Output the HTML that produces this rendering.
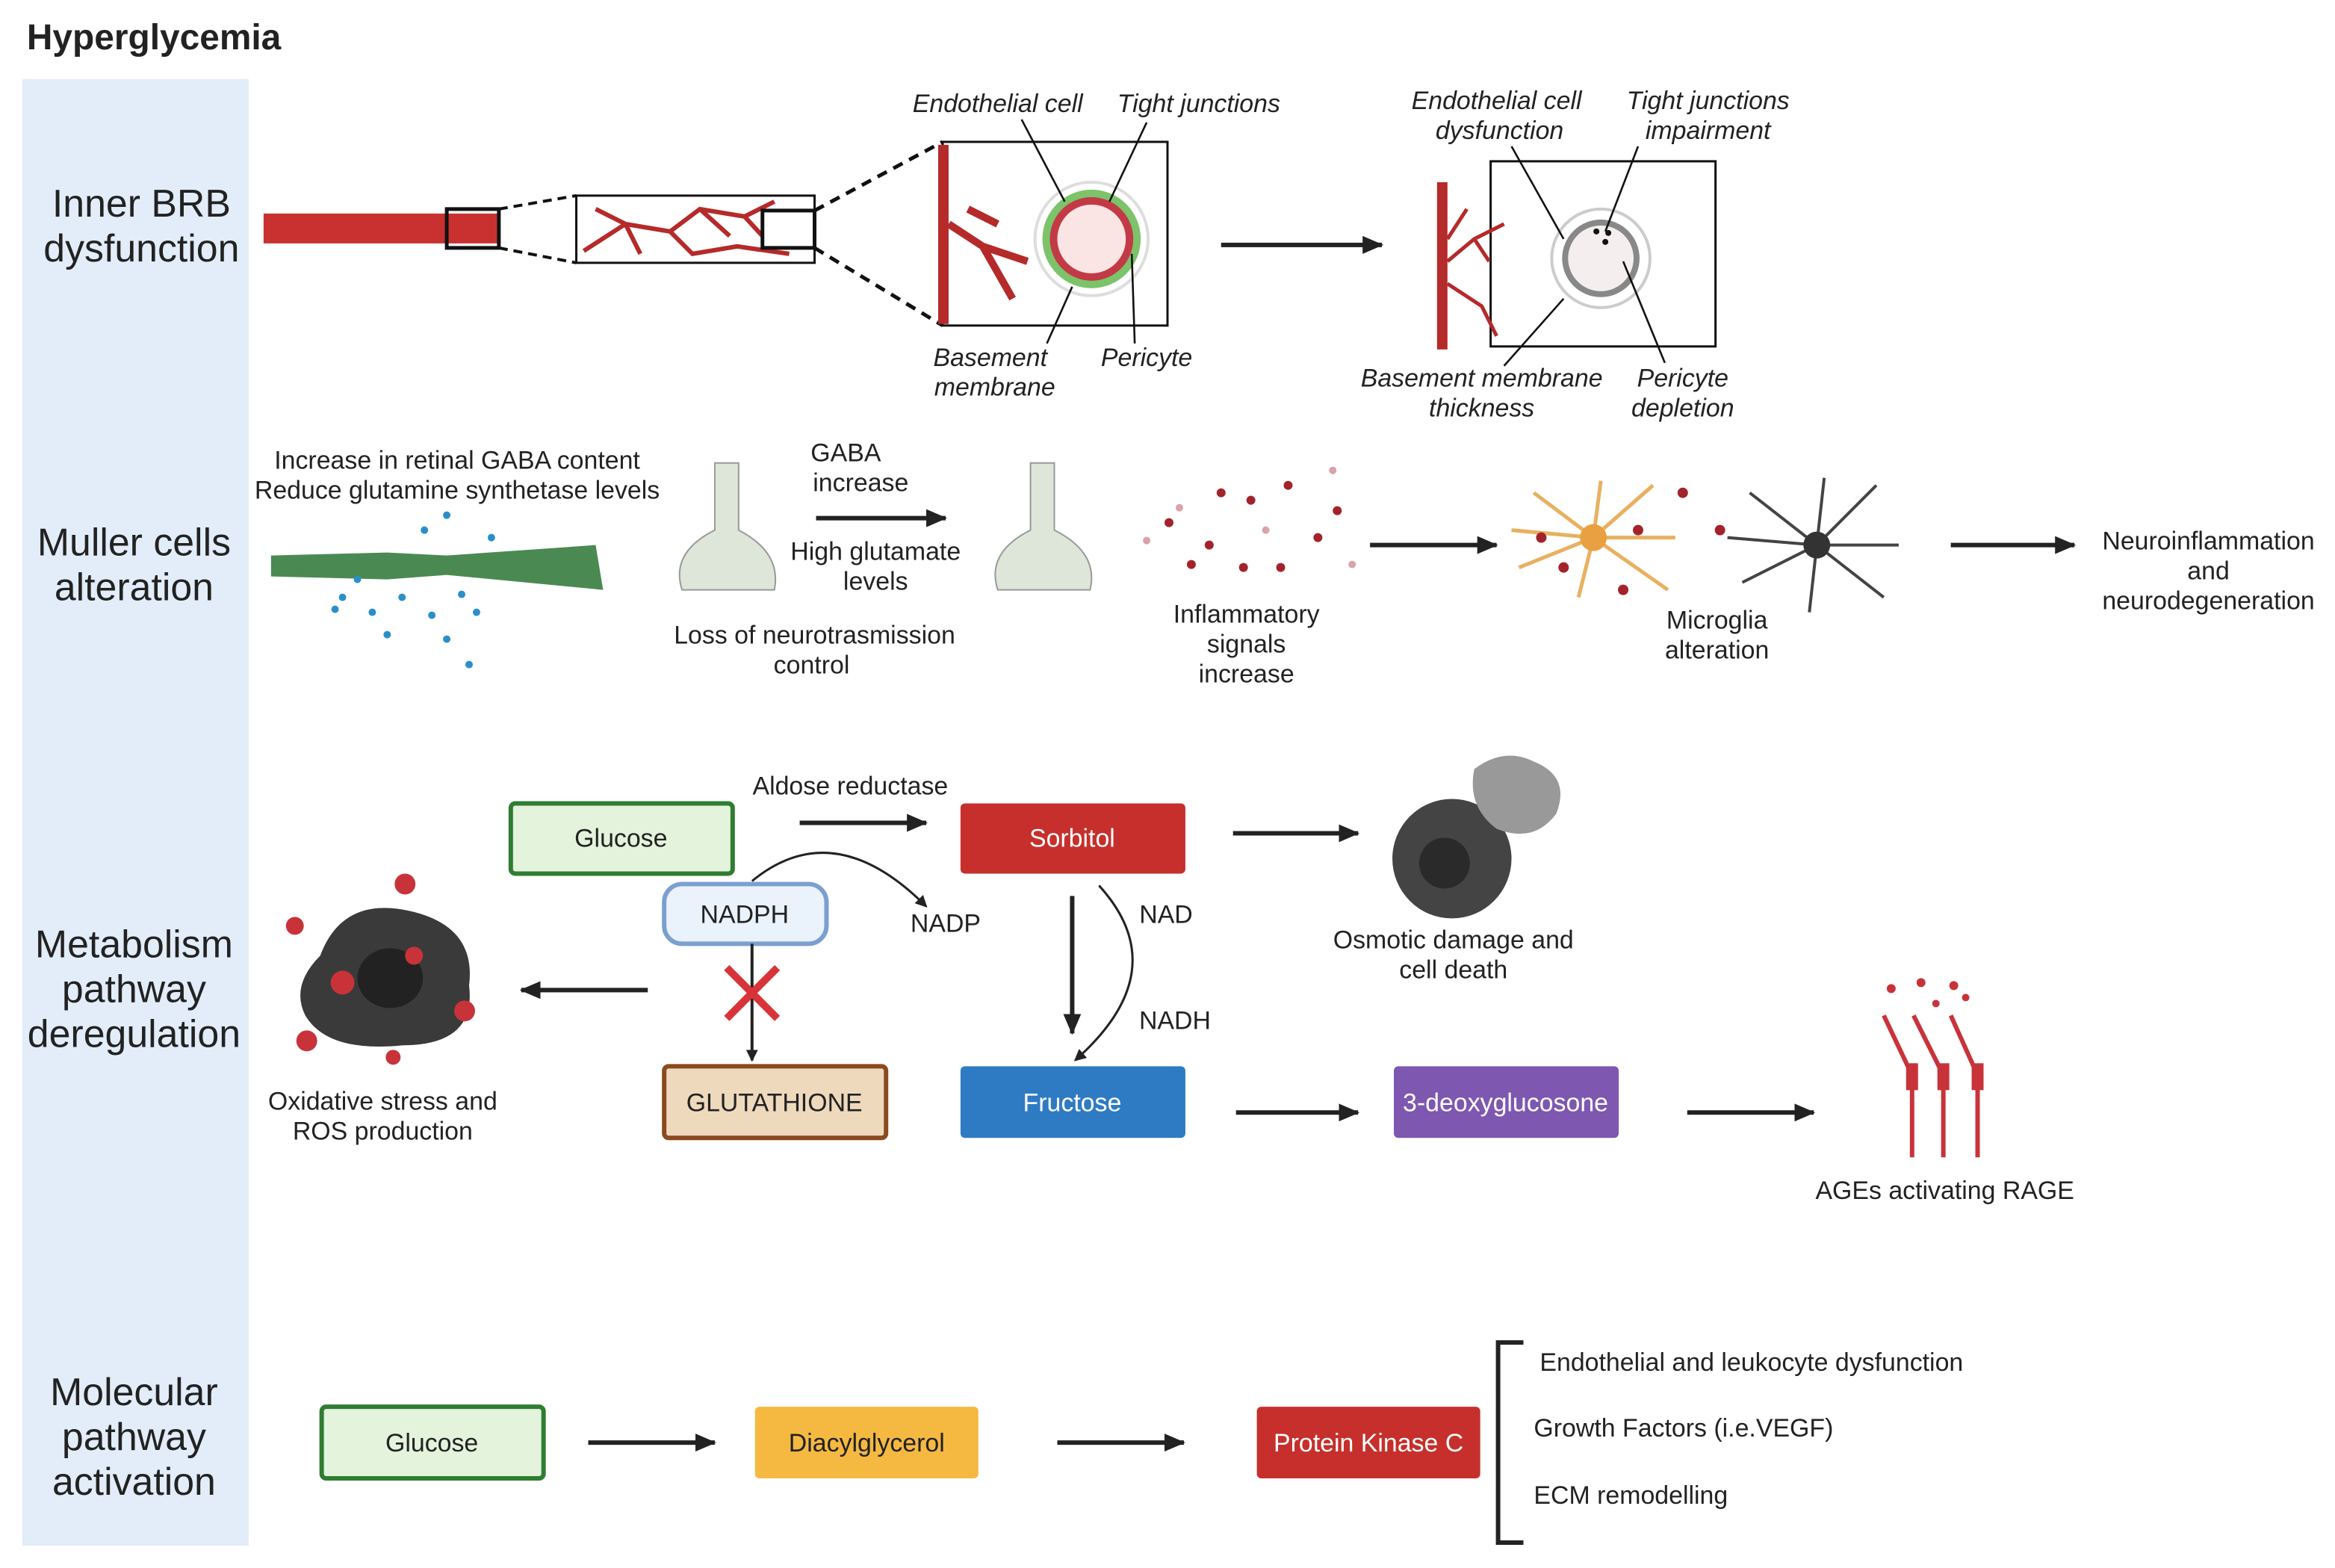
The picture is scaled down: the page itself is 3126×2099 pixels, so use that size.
<!DOCTYPE html>
<html><head><meta charset="utf-8"><style>
html,body{margin:0;padding:0;background:#fff;}
svg{display:block;}
text{font-family:"Liberation Sans",sans-serif;fill:#222;}
.i{font-style:italic;}
</style></head><body>
<svg width="3126" height="2099" viewBox="0 0 1568 1050" preserveAspectRatio="none" xmlns="http://www.w3.org/2000/svg">
<defs>
<marker id="a" markerWidth="8" markerHeight="8" refX="7" refY="4" orient="auto" markerUnits="userSpaceOnUse"><path d="M0,0 L8,4 L0,8 z" fill="#222"/></marker>
<marker id="b" markerWidth="14" markerHeight="12" refX="13" refY="6" orient="auto" markerUnits="userSpaceOnUse"><path d="M0,0 L14,6 L0,12 z" fill="#222"/></marker>
</defs>
<text x="18" y="33" font-size="24" font-weight="bold">Hyperglycemia</text>
<rect x="15" y="53" width="152" height="982" fill="#e2edf9"/>
<g font-size="26" text-anchor="middle">
<text x="95" y="145">Inner BRB</text><text x="95" y="175">dysfunction</text>
<text x="90" y="372">Muller cells</text><text x="90" y="402">alteration</text>
<text x="90" y="641">Metabolism</text><text x="90" y="671">pathway</text><text x="90" y="701">deregulation</text>
<text x="90" y="941">Molecular</text><text x="90" y="971">pathway</text><text x="90" y="1001">activation</text>
</g>
<!-- Row 1 -->
<rect x="177" y="143" width="158" height="20" fill="#c8312f"/>
<rect x="300" y="140" width="35" height="26" fill="none" stroke="#111" stroke-width="2.5"/>
<path d="M335,140 L387,131 M335,166 L387,176" stroke="#111" stroke-width="2" stroke-dasharray="6,4"/>
<rect x="387" y="131" width="160" height="45" fill="#fff" stroke="#111" stroke-width="1.5"/>
<path d="M392,168 L420,150 L450,155 L470,140 L500,145 L520,135 M420,150 L430,170 M450,155 L465,170 L495,165 L530,170 M470,140 L490,158 M500,145 L512,158 M400,140 L420,150" stroke="#b52a2a" stroke-width="3" fill="none"/>
<rect x="512" y="141" width="35" height="25" fill="none" stroke="#111" stroke-width="2.5"/>
<path d="M547,141 L633,95 M547,166 L633,218" stroke="#111" stroke-width="2.5" stroke-dasharray="7,5"/>
<rect x="633" y="95" width="151" height="123" fill="#fff" stroke="#111" stroke-width="1.5"/>
<rect x="630" y="97" width="7" height="120" fill="#b52a2a"/>
<path d="M637,150 L660,165 L680,200 M660,165 L690,175 M650,140 L670,150" stroke="#b52a2a" stroke-width="5" fill="none"/>
<circle cx="733" cy="160" r="38" fill="none" stroke="#ddd" stroke-width="2"/>
<circle cx="733" cy="160" r="33" fill="#7cc36a"/>
<circle cx="733" cy="160" r="28" fill="#c23a45"/>
<circle cx="733" cy="160" r="23" fill="#fbe4e4"/>
<g stroke="#111" stroke-width="1.3">
<line x1="686" y1="80" x2="715" y2="135"/><line x1="770" y1="82" x2="745" y2="135"/>
<line x1="703" y1="230" x2="720" y2="192"/><line x1="762" y1="230" x2="760" y2="170"/>
</g>
<g font-size="17" class="i" text-anchor="middle">
<text x="670" y="75" class="i" font-style="italic">Endothelial cell</text>
<text x="805" y="75" font-style="italic">Tight junctions</text>
<text x="665" y="245" font-style="italic">Basement</text><text x="668" y="265" font-style="italic">membrane</text>
<text x="770" y="245" font-style="italic">Pericyte</text>
<text x="1005" y="73" font-style="italic">Endothelial cell</text><text x="1007" y="93" font-style="italic">dysfunction</text>
<text x="1147" y="73" font-style="italic">Tight junctions</text><text x="1147" y="93" font-style="italic">impairment</text>
<text x="995" y="259" font-style="italic">Basement membrane</text><text x="995" y="279" font-style="italic">thickness</text>
<text x="1130" y="259" font-style="italic">Pericyte</text><text x="1130" y="279" font-style="italic">depletion</text>
</g>
<line x1="820" y1="164" x2="928" y2="164" stroke="#222" stroke-width="3" marker-end="url(#b)"/>
<rect x="1001" y="108" width="151" height="124" fill="#fff" stroke="#111" stroke-width="1.5"/>
<rect x="965" y="122" width="7" height="112" fill="#b52a2a"/>
<path d="M972,175 L990,160 L1010,150 M972,190 L995,205 L1005,225 M972,160 L985,140 M990,160 L1000,175" stroke="#b52a2a" stroke-width="2.5" fill="none"/>
<circle cx="1075" cy="173" r="33" fill="none" stroke="#ccc" stroke-width="2"/>
<circle cx="1075" cy="173" r="26" fill="#888"/>
<circle cx="1075" cy="173" r="22" fill="#f4eeee"/>
<g stroke="#111" stroke-width="1.3">
<line x1="1015" y1="98" x2="1050" y2="160"/><line x1="1100" y1="98" x2="1078" y2="155"/>
<line x1="1010" y1="245" x2="1050" y2="200"/><line x1="1118" y1="243" x2="1090" y2="175"/>
</g>
<circle cx="1072" cy="155" r="2" fill="#111"/><circle cx="1080" cy="156" r="2" fill="#111"/><circle cx="1078" cy="162" r="2" fill="#111"/>
<!-- Row 2 -->
<g font-size="17" text-anchor="middle">
<text x="307" y="314">Increase in retinal GABA content</text>
<text x="307" y="334">Reduce glutamine synthetase levels</text>
<text x="568" y="309">GABA</text><text x="578" y="329">increase</text>
<text x="588" y="375">High glutamate</text><text x="588" y="395">levels</text>
<text x="547" y="431">Loss of  neurotrasmission</text><text x="545" y="451">control</text>
<text x="837" y="417">Inflammatory</text><text x="837" y="437">signals</text><text x="837" y="457">increase</text>
<text x="1153" y="421">Microglia</text><text x="1153" y="441">alteration</text>
<text x="1483" y="368">Neuroinflammation</text><text x="1483" y="388">and</text><text x="1483" y="408">neurodegeneration</text>
</g>
<path d="M182,372 L260,370 L300,372 L400,365 L405,395 L300,385 L260,388 L182,386 z" fill="#4a8a52"/>
<g fill="#2a8fc8">
<circle cx="230" cy="400" r="2.5"/><circle cx="250" cy="410" r="2.5"/><circle cx="270" cy="400" r="2.5"/><circle cx="290" cy="412" r="2.5"/><circle cx="310" cy="398" r="2.5"/><circle cx="260" cy="425" r="2.5"/><circle cx="300" cy="428" r="2.5"/><circle cx="320" cy="410" r="2.5"/><circle cx="240" cy="388" r="2.5"/><circle cx="285" cy="355" r="2.5"/><circle cx="300" cy="345" r="2.5"/><circle cx="315" cy="445" r="2.5"/><circle cx="330" cy="360" r="2.5"/><circle cx="225" cy="408" r="2.5"/>
</g>
<path d="M480,310 L496,310 L496,355 Q525,370 520,395 L458,395 Q450,370 480,355 z" fill="#dde6d8" stroke="#999"/>
<path d="M692,310 L708,310 L708,355 Q738,370 732,395 L670,395 Q662,370 692,355 z" fill="#dde6d8" stroke="#999"/>
<line x1="548" y1="347" x2="635" y2="347" stroke="#222" stroke-width="3" marker-end="url(#b)"/>
<g fill="#a3232b">
<circle cx="785" cy="350" r="3"/><circle cx="820" cy="330" r="3"/><circle cx="840" cy="335" r="3"/><circle cx="865" cy="325" r="3"/><circle cx="898" cy="342" r="3"/><circle cx="812" cy="365" r="3"/><circle cx="835" cy="380" r="3"/><circle cx="860" cy="380" r="3"/><circle cx="885" cy="360" r="3"/><circle cx="800" cy="378" r="3"/>
</g>
<g fill="#d9a3a8"><circle cx="770" cy="362" r="2.5"/><circle cx="895" cy="315" r="2.5"/><circle cx="908" cy="378" r="2.5"/><circle cx="850" cy="355" r="2.5"/><circle cx="792" cy="340" r="2.5"/></g>
<line x1="920" y1="365" x2="1005" y2="365" stroke="#222" stroke-width="3" marker-end="url(#b)"/>
<g stroke="#e8b060" stroke-width="2.5" fill="none">
<path d="M1070,360 L1030,330 M1070,360 L1020,380 M1070,360 L1110,325 M1070,360 L1120,395 M1070,360 L1060,400 M1070,360 L1075,322 M1070,360 L1015,355 M1070,360 L1125,360"/>
</g>
<circle cx="1070" cy="360" r="9" fill="#e8a040"/>
<g stroke="#444" stroke-width="2" fill="none">
<path d="M1220,365 L1175,330 M1220,365 L1170,390 M1220,365 L1260,325 M1220,365 L1265,400 M1220,365 L1215,410 M1220,365 L1225,320 M1220,365 L1160,360 M1220,365 L1275,365"/>
</g>
<circle cx="1220" cy="365" r="9" fill="#333"/>
<g fill="#a3232b"><circle cx="1035" cy="360" r="3.5"/><circle cx="1100" cy="355" r="3.5"/><circle cx="1090" cy="395" r="3.5"/><circle cx="1155" cy="355" r="3.5"/><circle cx="1130" cy="330" r="3.5"/><circle cx="1050" cy="380" r="3.5"/></g>
<line x1="1310" y1="365" x2="1393" y2="365" stroke="#222" stroke-width="3" marker-end="url(#b)"/>
<!-- Row 3 -->
<g font-size="17" text-anchor="middle">
<rect x="343" y="538" width="149" height="47" rx="3" fill="#e3f3dc" stroke="#2f7d32" stroke-width="3"/>
<text x="417" y="567">Glucose</text>
<text x="571" y="532">Aldose reductase</text>
<rect x="645" y="538" width="151" height="47" rx="3" fill="#c62f2b"/>
<text x="720" y="567" style="fill:#fff">Sorbitol</text>
<rect x="446" y="592" width="109" height="40" rx="12" fill="#eaf2fc" stroke="#7b9fd0" stroke-width="3"/>
<text x="500" y="618">NADPH</text>
<text x="635" y="624">NADP</text>
<rect x="446" y="714" width="149" height="48" rx="3" fill="#efd9bd" stroke="#8a4a1e" stroke-width="3"/>
<text x="520" y="744">GLUTATHIONE</text>
<rect x="645" y="714" width="151" height="48" rx="3" fill="#2e7bc4"/>
<text x="720" y="744" style="fill:#fff">Fructose</text>
<text x="783" y="618">NAD</text><text x="789" y="689">NADH</text>
<text x="257" y="743">Oxidative stress and</text><text x="257" y="763">ROS production</text>
<text x="976" y="635">Osmotic damage and</text><text x="976" y="655">cell death</text>
<rect x="936" y="714" width="151" height="48" rx="3" fill="#7e57b0"/>
<text x="1011" y="744" style="fill:#fff">3-deoxyglucosone</text>
<text x="1306" y="803">AGEs activating RAGE</text>
</g>
<line x1="537" y1="551" x2="622" y2="551" stroke="#222" stroke-width="3" marker-end="url(#b)"/>
<path d="M505,590 Q560,545 622,607" stroke="#222" stroke-width="1.5" fill="none" marker-end="url(#a)"/>
<line x1="505" y1="632" x2="505" y2="710" stroke="#222" stroke-width="2" marker-end="url(#a)"/>
<path d="M488,648 L522,682 M522,648 L488,682" stroke="#d9333a" stroke-width="5"/>
<line x1="435" y1="663" x2="350" y2="663" stroke="#222" stroke-width="3" marker-end="url(#b)"/>
<path d="M215,640 Q230,600 275,610 Q320,620 315,660 Q320,700 270,700 Q220,705 205,680 Q195,660 215,640 z" fill="#3a3a3a"/>
<ellipse cx="262" cy="655" rx="22" ry="20" fill="#222"/>
<g fill="#c8333a"><circle cx="230" cy="658" r="8"/><circle cx="278" cy="640" r="6"/><circle cx="198" cy="620" r="6"/><circle cx="272" cy="592" r="7"/><circle cx="312" cy="677" r="7"/><circle cx="206" cy="697" r="7"/><circle cx="264" cy="708" r="5"/></g>
<line x1="720" y1="600" x2="720" y2="692" stroke="#222" stroke-width="3" marker-end="url(#b)"/>
<path d="M738,593 Q790,650 722,710" stroke="#222" stroke-width="1.5" fill="none" marker-end="url(#a)"/>
<line x1="828" y1="558" x2="912" y2="558" stroke="#222" stroke-width="3" marker-end="url(#b)"/>
<circle cx="975" cy="575" r="40" fill="#444"/>
<circle cx="970" cy="578" r="17" fill="#2a2a2a"/>
<path d="M990,515 Q1010,500 1030,510 Q1055,520 1045,545 Q1030,565 1005,555 Q985,540 990,515 z" fill="#999"/>
<line x1="830" y1="745" x2="912" y2="745" stroke="#222" stroke-width="3" marker-end="url(#b)"/>
<line x1="1133" y1="745" x2="1218" y2="745" stroke="#222" stroke-width="3" marker-end="url(#b)"/>
<g stroke="#c8333a" stroke-width="3" fill="none">
<path d="M1284,775 L1284,720 L1265,680 M1305,775 L1305,720 L1285,680 M1328,775 L1328,720 L1310,680"/>
</g>
<g fill="#c8333a"><rect x="1280" y="712" width="8" height="18"/><rect x="1301" y="712" width="8" height="18"/><rect x="1324" y="712" width="8" height="18"/>
<circle cx="1270" cy="662" r="3"/><circle cx="1290" cy="658" r="3"/><circle cx="1312" cy="660" r="3"/><circle cx="1300" cy="672" r="2.5"/><circle cx="1320" cy="668" r="2.5"/></g>
<!-- Row 4 -->
<g font-size="17" text-anchor="middle">
<rect x="216" y="942" width="149" height="48" rx="3" fill="#e3f3dc" stroke="#2f7d32" stroke-width="3"/>
<text x="290" y="972">Glucose</text>
<rect x="507" y="942" width="150" height="48" rx="3" fill="#f5b942"/>
<text x="582" y="972">Diacylglycerol</text>
<rect x="844" y="942" width="150" height="48" rx="3" fill="#c62f2b"/>
<text x="919" y="972" style="fill:#fff">Protein Kinase C</text>
</g>
<line x1="395" y1="966" x2="480" y2="966" stroke="#222" stroke-width="3" marker-end="url(#b)"/>
<line x1="710" y1="966" x2="795" y2="966" stroke="#222" stroke-width="3" marker-end="url(#b)"/>
<path d="M1023,899 L1006,899 L1006,1033 L1023,1033" stroke="#222" stroke-width="3" fill="none"/>
<g font-size="17">
<text x="1034" y="918">Endothelial and leukocyte dysfunction</text>
<text x="1030" y="962">Growth Factors (i.e.VEGF)</text>
<text x="1030" y="1007">ECM remodelling</text>
</g>
</svg>
</body></html>
